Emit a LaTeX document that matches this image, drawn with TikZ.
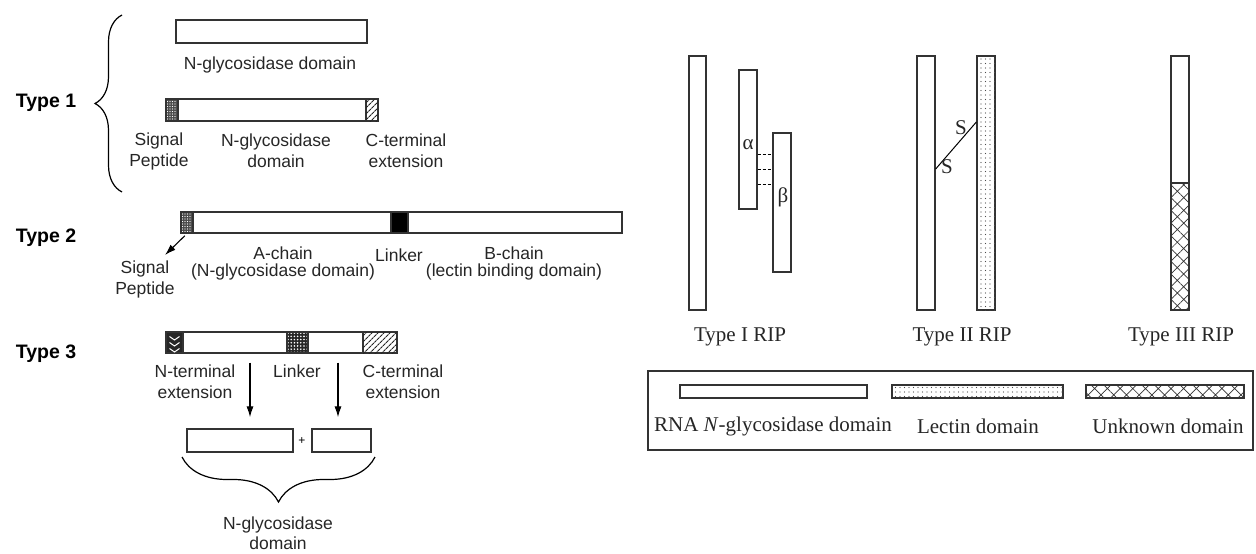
\documentclass[tikz,border=0pt]{standalone}
\usepackage{fontspec}
\setmainfont{Liberation Serif}
\setsansfont{Liberation Sans}
\usepackage{tikz}
\usetikzlibrary{decorations.pathreplacing}
\usetikzlibrary{arrows.meta,patterns.meta}

\tikzset{
  bar/.style={draw=black!80, line width=1.3pt, inner sep=0pt, fill=white},
  rim/.style={draw=black!80, line width=1.3pt},
  sigbox/.style={bar, fill=black!70, postaction={pattern={Dots[distance=2.5pt,radius=0.55pt]}, pattern color=white}, postaction={rim}},
  hatchbox/.style={bar, postaction={pattern={Lines[angle=45,distance=4pt,line width=1.1pt]}, pattern color=black!85}},
  linkbox/.style={bar, fill=black!85, postaction={pattern={Dots[distance=3.2pt,radius=0.9pt]}, pattern color=white}, postaction={rim}},
  lecbox/.style={bar, postaction={pattern={Dots[distance=4.5pt,radius=0.7pt]}, pattern color=black!70}},
  unkbox/.style={bar, postaction={pattern={Hatch[angle=45,distance=9pt,line width=0.7pt]}, pattern color=black!80}, postaction={rim}},
  sans/.style={font=\sffamily\fontsize{17.5}{21}\selectfont, align=center, text=black!85},
  typelbl/.style={font=\sffamily\bfseries\fontsize{19.5}{22}\selectfont},
  serif/.style={font=\rmfamily\fontsize{21}{24}\selectfont, text=black!85},
  arr/.style={-{Latex[length=11pt,width=7pt]}, line width=1.1pt},
  brc/.style={decorate, line width=1.2pt, decoration={brace, amplitude=#1}},
}

\begin{document}
\begin{tikzpicture}[x=1pt,y=-1pt]
    \useasboundingbox (0,0) rectangle (1256,554);

    \node[typelbl] (ty1) at (46,103) {Type 1};
    \draw[brc=27pt] (122,192) -- (122,15);
    \node[bar, minimum width=191pt, minimum height=23pt] (nd1) at (271.5,31.5) {};
    \node[sans] (nd1l) at (270,65) {N-glycosidase domain};
    \node[bar, minimum width=212pt, minimum height=22pt] (pre1) at (272,110) {};
    \node[sigbox, minimum width=12pt, minimum height=22pt] (sp1) at (172,110) {};
    \node[hatchbox, minimum width=12pt, minimum height=22pt] (ct1) at (372,110) {};
    \node[sans] (sp1l) at (159,151) {Signal\\Peptide};
    \node[sans] (nd2l) at (276,151) {N-glycosidase\\domain};
    \node[sans] (ct1l) at (406,151) {C-terminal\\extension};

    \node[typelbl] (ty2) at (46,238) {Type 2};
    \node[bar, minimum width=441pt, minimum height=21pt] (pre2) at (401.5,222.5) {};
    \node[sigbox, minimum width=12pt, minimum height=21pt] (sp2) at (187,222.5) {};
    \node[bar, fill=black, minimum width=17pt, minimum height=21pt] (lk2) at (399.5,222.5) {};
    \coordinate (sp2tip) at (165,255);
    \draw[arr, shorten <=3pt] (sp2.south) -- (sp2tip);
    \node[sans] (sp2l) at (145,279) {Signal\\Peptide};
    \node[sans] (ach) at (283,263) {A-chain\\[-4pt](N-glycosidase domain)};
    \node[sans] (lk2l) at (399,255) {Linker};
    \node[sans] (bch) at (514,263) {B-chain\\[-4pt](lectin binding domain)};

    \node[typelbl] (ty3) at (46,354) {Type 3};
    \node[bar, minimum width=231pt, minimum height=21pt] (pre3) at (281.5,342.5) {};
    \node[bar, fill=black!85, minimum width=17pt, minimum height=21pt] (nt3) at (174.5,342.5) {};
    \foreach \y in {336.5,342.5,348.5}
      \draw[white, line width=1pt] (169.5,\y) -- (174.5,\y+3.5) -- (179.5,\y);
    \node[linkbox, minimum width=21pt, minimum height=21pt] (lk3) at (297.5,342.5) {};
    \node[hatchbox, minimum width=34pt, minimum height=21pt] (ct3) at (380,342.5) {};
    \node[sans] (nt3l) at (195,382) {N-terminal\\extension};
    \node[sans] (lk3l) at (297,371) {Linker};
    \node[sans] (ct3l) at (403,382) {C-terminal\\extension};
    \node[bar, minimum width=106pt, minimum height=23pt] (ga) at (240,440.5) {};
    \node[bar, minimum width=59pt, minimum height=23pt] (gb) at (341.5,440.5) {};
    \node[font=\sffamily\fontsize{12}{14}\selectfont] (plus) at (302,441) {+};
    \coordinate (ar1) at (250,0);
    \coordinate (ar2) at (338,0);
    \draw[arr, shorten <=9pt, shorten >=11pt] (pre3.south -| ar1) -- (ga.north -| ar1);
    \draw[arr, shorten <=9pt, shorten >=11pt] (pre3.south -| ar2) -- (gb.north -| ar2);
    \draw[brc=45pt] (375,457) -- (182,457);
    \node[sans] (ndl3) at (278,533) {N-glycosidase\\[-1pt]domain};

    \node[bar, minimum width=17pt, minimum height=254pt] (r1) at (697.5,183) {};
    \node[bar, minimum width=18pt, minimum height=139pt] (al) at (748,139.5) {};
    \node[bar, minimum width=18pt, minimum height=139pt] (be) at (782,202.5) {};
    \foreach \y in {154,169,184}
      \draw[line width=1pt, dash pattern=on 3pt off 2pt] (al.east |- 0,\y) -- (be.west |- 0,\y);
    \node[serif] (all) at (748,145) {α};
    \node[serif] (bel) at (783,197) {β};
    \node[serif] (r1l) at (740,337) {Type I RIP};

    \node[bar, minimum width=18pt, minimum height=254pt] (t2a) at (926,183) {};
    \node[lecbox, minimum width=18pt, minimum height=254pt] (t2b) at (986,183) {};
    \draw[line width=1pt] (t2a.east |- 0,169) -- (t2b.west |- 0,122);
    \node[serif] (s1) at (961,128) {S};
    \node[serif] (s2) at (947,167) {S};
    \node[serif] (r2l) at (962,337) {Type II RIP};

    \node[bar, minimum width=18pt, minimum height=127pt] (u3a) at (1180,119.5) {};
    \node[unkbox, minimum width=18pt, minimum height=127pt] (u3b) at (1180,246.5) {};
    \node[serif] (r3l) at (1181,337) {Type III RIP};

    \node[draw=black!80, line width=1.3pt, minimum width=605pt, minimum height=79pt] (leg) at (950.5,410.5) {};
    \node[bar, minimum width=187pt, minimum height=13pt] (lg1) at (773.5,391.5) {};
    \node[lecbox, minimum width=171pt, minimum height=13pt] (lg2) at (977.5,391.5) {};
    \node[unkbox, minimum width=158pt, minimum height=13pt] (lg3) at (1165,391.5) {};
    \node[serif] (lg1l) at (773,426) {RNA \textit{N}-glycosidase domain};
    \node[serif] (lg2l) at (978,426) {Lectin domain};
    \node[serif] (lg3l) at (1168,426) {Unknown domain};
\end{tikzpicture}
\end{document}
